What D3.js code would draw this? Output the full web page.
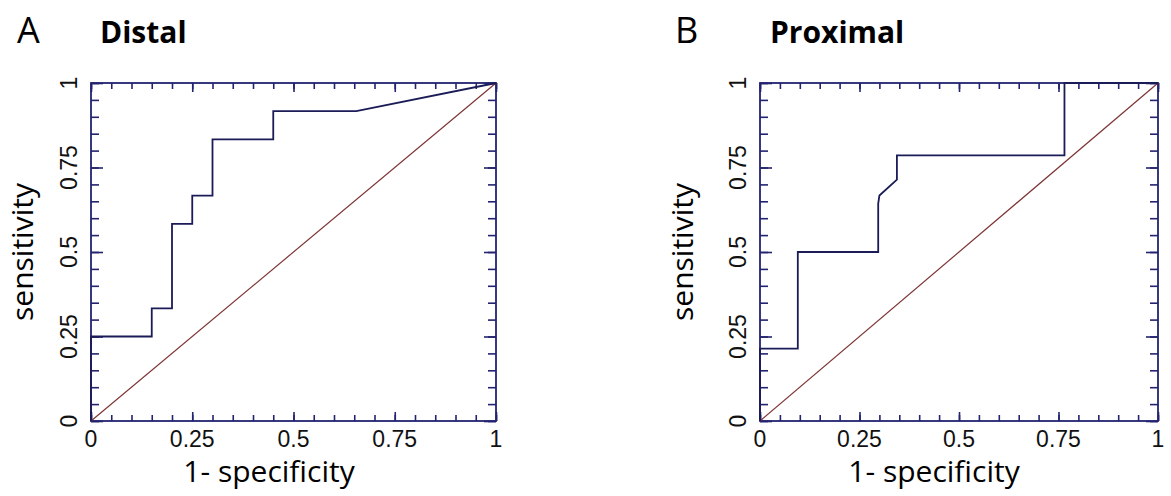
<!DOCTYPE html>
<html>
<head>
<meta charset="utf-8">
<script src="https://cdn.jsdelivr.net/npm/d3@7"></script>
<style>
  body { margin: 0; background: #fff; }
  svg { display: block; }
  .tick-label { font-family: "Liberation Sans", Arial, sans-serif; font-size: 23px; fill: #111; }
  .title { font-family: "Open Sans", sans-serif; fill: #000; }
</style>
</head>
<body>
<svg id="chart" width="1171" height="496"></svg>
<script>
// ROC points (1 - specificity, sensitivity)
const distalFpr = [0, 0, 0.15, 0.15, 0.2, 0.2, 0.25, 0.25, 0.3, 0.3, 0.45, 0.45, 0.655, 1];
const distalTpr = [0, 0.25, 0.25, 0.333, 0.333, 0.583, 0.583, 0.667, 0.667, 0.833, 0.833, 0.917, 0.917, 1];
const proximalFpr = [0, 0, 0.095, 0.095, 0.297, 0.297, 0.30, 0.344, 0.344, 0.765, 0.765, 1];
const proximalTpr = [0, 0.214, 0.214, 0.5, 0.5, 0.643, 0.667, 0.714, 0.786, 0.786, 1, 1];

const majorTicks = [0, 0.25, 0.5, 0.75, 1];
const tickLabels = ['0', '0.25', '0.5', '0.75', '1'];
const minorTicks = d3.range(0, 21).map(i => i / 20);

const frameColor = '#232370';
const curveColor = '#1b1b58';
const diagColor = '#7d3434';

const svg = d3.select('#chart');

const panels = [
  { letter: 'A', name: 'Distal', left: 91, top: 83, right: 496, bottom: 421,
    letterX: 17, nameX: 100, yTitleX: 33, xTitleX: 269, xTitleY: 482, xLabelY: 447,
    fpr: distalFpr, tpr: distalTpr },
  { letter: 'B', name: 'Proximal', left: 760, top: 83, right: 1158, bottom: 421,
    letterX: 675, nameX: 770, yTitleX: 693, xTitleX: 934, xTitleY: 482, xLabelY: 447,
    fpr: proximalFpr, tpr: proximalTpr }
];

function drawPanel(p) {
  const x = d3.scaleLinear().domain([0, 1]).range([p.left, p.right]);
  const y = d3.scaleLinear().domain([0, 1]).range([p.bottom, p.top]);
  const g = svg.append('g');

  // inward ticks on all four sides, longer at the labelled values
  const sides = [
    { axis: d3.axisBottom(x), at: `translate(0,${p.bottom})`, minor: -6, major: -9 },
    { axis: d3.axisTop(x), at: `translate(0,${p.top})`, minor: -6, major: -9 },
    { axis: d3.axisLeft(y), at: `translate(${p.left},0)`, minor: -8, major: -12 },
    { axis: d3.axisRight(y), at: `translate(${p.right},0)`, minor: -8, major: -12 }
  ];
  sides.forEach(s => {
    [[minorTicks, s.minor], [majorTicks, s.major]].forEach(([vals, size]) => {
      const a = g.append('g')
        .attr('transform', s.at)
        .call(s.axis.tickValues(vals).tickSize(size).tickFormat(''));
      a.select('.domain').remove();
      a.selectAll('line').attr('stroke', frameColor).attr('stroke-width', 1.6);
    });
  });

  g.append('rect')
    .attr('x', p.left).attr('y', p.top)
    .attr('width', p.right - p.left).attr('height', p.bottom - p.top)
    .attr('fill', 'none').attr('stroke', frameColor).attr('stroke-width', 1.8);

  g.selectAll('.xlab').data(majorTicks).join('text')
    .attr('class', 'tick-label')
    .attr('x', d => x(d)).attr('y', p.xLabelY)
    .attr('text-anchor', 'middle')
    .text((d, i) => tickLabels[i]);

  g.selectAll('.ylab').data(majorTicks).join('text')
    .attr('class', 'tick-label')
    .attr('transform', d => `translate(${p.left - 14},${y(d)}) rotate(-90)`)
    .attr('text-anchor', 'middle')
    .text((d, i) => tickLabels[i]);

  // chance line
  g.append('line')
    .attr('x1', x(0)).attr('y1', y(0)).attr('x2', x(1)).attr('y2', y(1))
    .attr('stroke', diagColor).attr('stroke-width', 1.2);

  const line = d3.line().x(d => x(d[0])).y(d => y(d[1]));
  g.append('path')
    .datum(p.fpr.map((f, i) => [f, p.tpr[i]]))
    .attr('d', line)
    .attr('fill', 'none').attr('stroke', curveColor).attr('stroke-width', 1.8);

  g.append('text').attr('class', 'title')
    .attr('transform', `translate(${p.yTitleX},${(p.top + p.bottom) / 2}) rotate(-90)`)
    .attr('text-anchor', 'middle').style('font-size', '30px')
    .text('sensitivity');

  g.append('text').attr('class', 'title')
    .attr('x', p.xTitleX).attr('y', p.xTitleY)
    .attr('text-anchor', 'middle').style('font-size', '30px')
    .text('1- specificity');

  g.append('text').attr('class', 'title')
    .attr('x', p.letterX).attr('y', 43).style('font-size', '36px')
    .text(p.letter);

  g.append('text').attr('class', 'title')
    .attr('x', p.nameX).attr('y', 43).style('font-size', '30px').style('font-weight', 700)
    .text(p.name);
}

panels.forEach(drawPanel);
</script>
</body>
</html>
